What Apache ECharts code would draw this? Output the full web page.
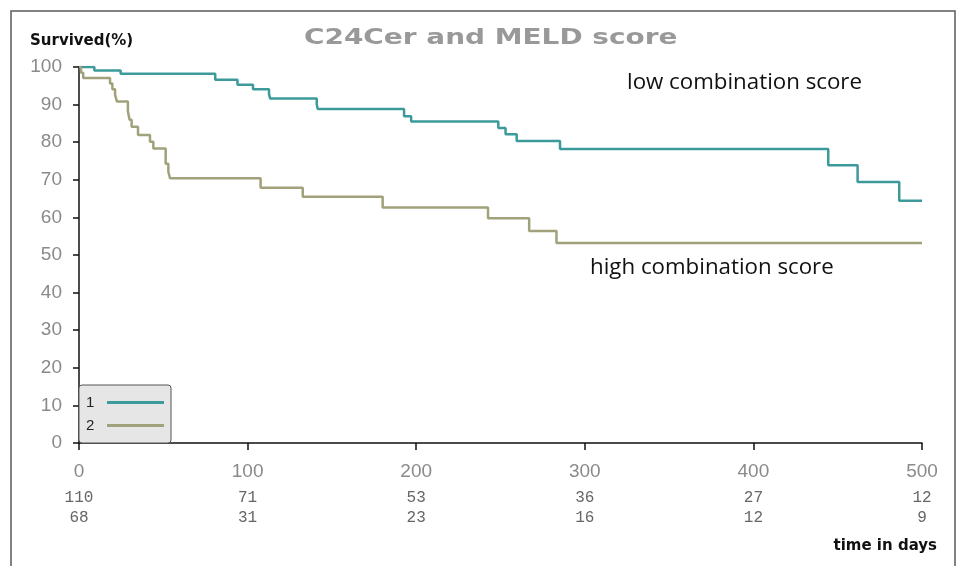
<!DOCTYPE html>
<html>
<head>
<meta charset="utf-8">
<script src="https://cdn.jsdelivr.net/npm/echarts@6/dist/echarts.min.js"></script>
<style>html,body{margin:0;padding:0;background:#fff;}#c{width:958px;height:566px;}</style>
</head>
<body>
<div id="c"></div>
<script>
// ---- data ----
const lowDays  = [0, 9.1, 24.7, 80.8, 94.0, 103.2, 112.7, 113.4, 141.0, 141.6, 192.8, 197.0, 248.7, 253.0, 259.6, 285.3, 444.4, 461.8, 486.5, 500];
const lowSurv  = [100, 99.1, 98.2, 96.6, 95.3, 94.1, 92.8, 91.6, 90.1, 88.8, 86.9, 85.5, 83.8, 82.1, 80.3, 78.2, 73.9, 69.4, 64.4, 64.4];
const highDays = [0, 1.2, 2.5, 18.4, 19.8, 21.4, 22.5, 29.0, 30.0, 31.2, 35.0, 42.1, 44.1, 51.4, 53.0, 54.0, 107.7, 132.7, 180.1, 242.6, 267.0, 283.2, 500];
const highSurv = [100, 98.5, 97.1, 95.6, 94.1, 92.6, 90.8, 88.2, 86.0, 84.1, 81.9, 80.1, 78.3, 74.3, 72.1, 70.4, 67.9, 65.5, 62.6, 59.8, 56.4, 53.2, 53.2];
const xTicks   = [0, 100, 200, 300, 400, 500];
const riskLow  = [110, 71, 53, 36, 27, 12];
const riskHigh = [68, 31, 23, 16, 12, 9];
const seriesNames = ['1', '2'];
const titleText = 'C24Cer and MELD score';
const yName = 'Survived(%)';
const xName = 'time in days';
const noteLow = 'low combination score';
const noteHigh = 'high combination score';

const zip = (a, b) => a.map((v, i) => [v, b[i]]);
const TEAL = '#3d9a9a', OLIVE = '#a1a17b';

const chart = echarts.init(document.getElementById('c'), null, {renderer: 'canvas'});
chart.setOption({
  animation: false,
  backgroundColor: '#fff',
  grid: {left: 79, right: 36, top: 67, bottom: 123},
  xAxis: {
    type: 'value', min: 0, max: 500, interval: 100, offset: 6,
    axisLine: {show: true, lineStyle: {color: '#111', width: 1.5}},
    axisTick: {show: true, length: 7, lineStyle: {color: '#111', width: 1.5}},
    splitLine: {show: false},
    axisLabel: {
      margin: 7,
      formatter: function (value) {
        const i = xTicks.indexOf(value);
        return '{v|' + value + '}\n{a|' + riskLow[i] + '}\n{b|' + riskHigh[i] + '}';
      },
      rich: {
        v: {fontFamily: 'Liberation Sans', fontSize: 19, color: '#8a8a8a', lineHeight: 32},
        a: {fontFamily: 'Liberation Mono', fontSize: 16, color: '#666', lineHeight: 20},
        b: {fontFamily: 'Liberation Mono', fontSize: 16, color: '#666', lineHeight: 20}
      }
    }
  },
  yAxis: {
    type: 'value', min: 0, max: 100, interval: 10, offset: 7,
    axisLine: {show: true, lineStyle: {color: '#111', width: 1.5}},
    axisTick: {show: true, length: 6, lineStyle: {color: '#111', width: 1.5}},
    splitLine: {show: false},
    axisLabel: {margin: 10, fontFamily: 'Liberation Sans', fontSize: 19, color: '#8a8a8a'}
  },
  legend: {
    orient: 'vertical', left: 79, top: 385, align: 'right',
    icon: 'rect', itemWidth: 57, itemHeight: 3, itemGap: 8,
    padding: [10, 7, 10, 7],
    backgroundColor: '#e6e6e6', borderColor: '#555', borderWidth: 1, borderRadius: 3,
    formatter: '{n|{name}}',
    textStyle: {fontFamily: 'Liberation Sans', fontSize: 15, color: '#222',
                rich: {n: {width: 16, align: 'left', fontFamily: 'Liberation Sans', fontSize: 15, color: '#222'}}},
    data: seriesNames
  },
  series: [
    {name: seriesNames[0], type: 'line', step: 'end', symbol: 'none',
     lineStyle: {color: TEAL, width: 2.5}, itemStyle: {color: TEAL},
     data: zip(lowDays, lowSurv)},
    {name: seriesNames[1], type: 'line', step: 'end', symbol: 'none',
     lineStyle: {color: OLIVE, width: 2.5}, itemStyle: {color: OLIVE},
     data: zip(highDays, highSurv)}
  ],
  graphic: [
    {type: 'rect', shape: {x: 11, y: 11, width: 944, height: 600}, silent: true,
     style: {fill: 'none', stroke: '#5a5a5a', lineWidth: 1.5}},
    {type: 'text', x: 304, y: 39, scaleX: 1.33,
     style: {text: titleText, fontFamily: 'DejaVu Sans', fontWeight: 'bold', fontSize: 21,
             fill: '#999', align: 'left', verticalAlign: 'middle'}},
    {type: 'text', x: 30, y: 41,
     style: {text: yName, fontFamily: 'DejaVu Sans', fontWeight: 'bold', fontSize: 15,
             fill: '#111', align: 'left', verticalAlign: 'middle'}},
    {type: 'text', x: 937, y: 546,
     style: {text: xName, fontFamily: 'DejaVu Sans', fontWeight: 'bold', fontSize: 15,
             fill: '#111', align: 'right', verticalAlign: 'middle'}},
    {type: 'text', x: 627, y: 83,
     style: {text: noteLow, fontFamily: 'Open Sans', fontSize: 22.3,
             fill: '#111', align: 'left', verticalAlign: 'middle'}},
    {type: 'text', x: 590, y: 268,
     style: {text: noteHigh, fontFamily: 'Open Sans', fontSize: 22.3,
             fill: '#111', align: 'left', verticalAlign: 'middle'}}
  ]
});
</script>
</body>
</html>
